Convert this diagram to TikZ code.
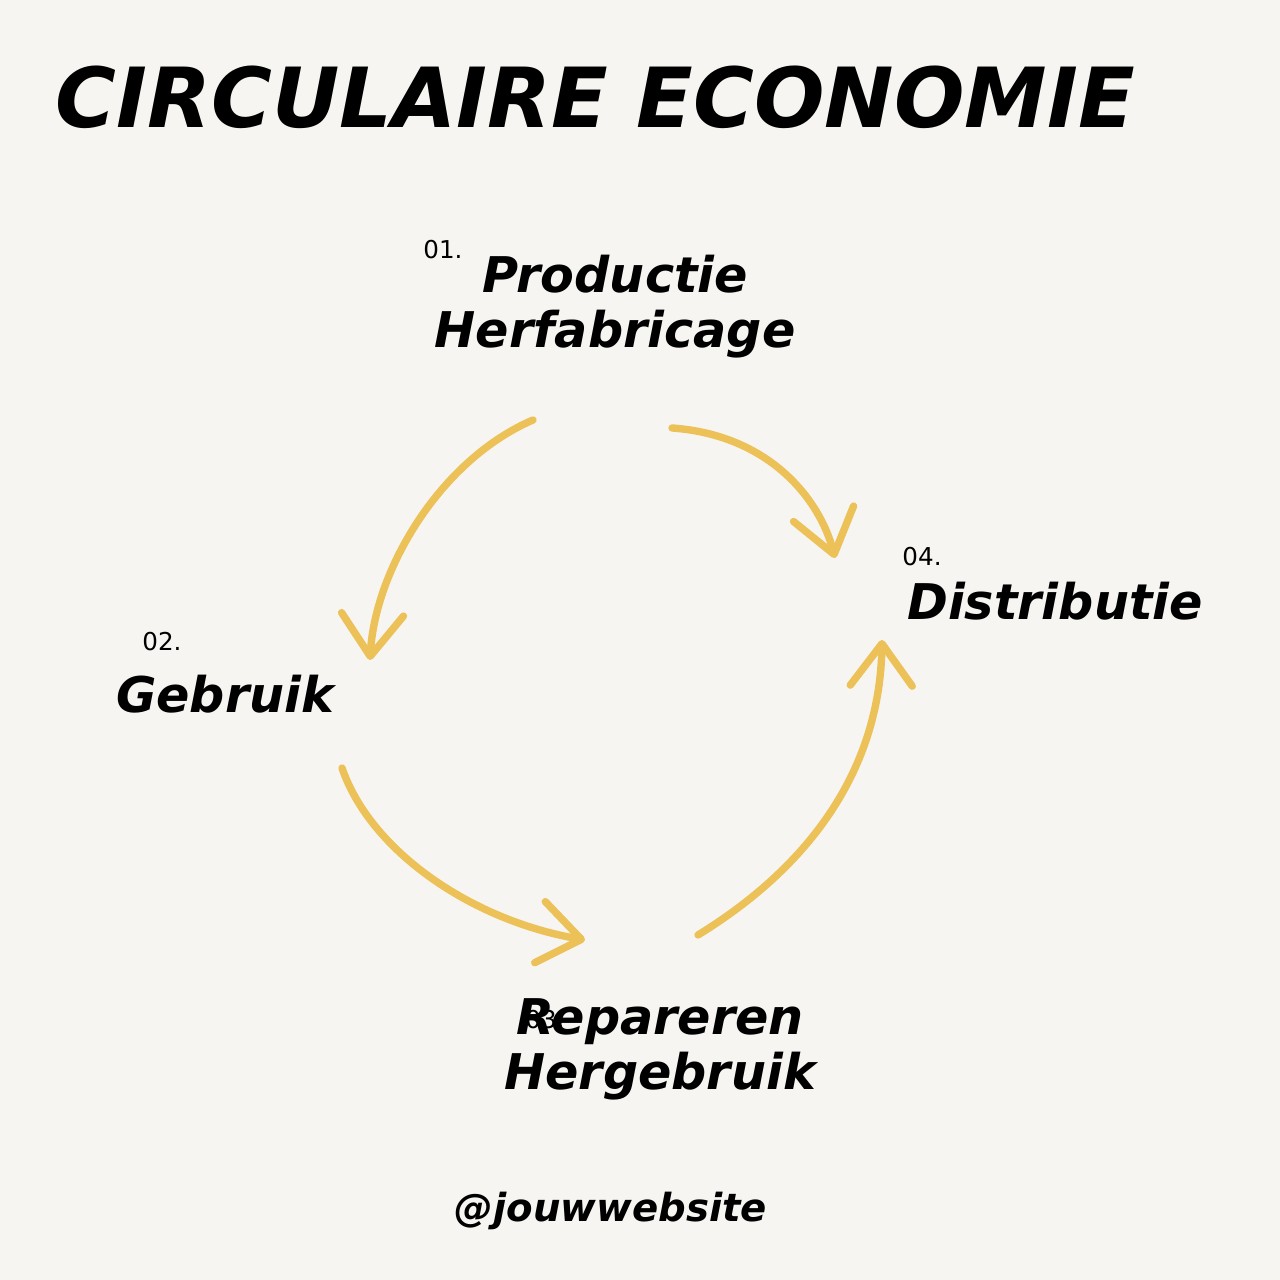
\documentclass[tikz,border=0pt]{standalone}
\usepackage{fontspec}
\setmainfont{DejaVu Sans}
\usetikzlibrary{arrows.meta}
\definecolor{paper}{HTML}{F7F5F2}
\definecolor{gold}{HTML}{EBC158}
\tikzset{
  cycle arrow/.style={draw=gold, line width=2.1pt, line cap=round,
    -{Straight Barb[length=4.2mm, width=6.2mm, round]}},
  stage/.style={font=\bfseries\itshape\fontsize{14}{15.8}\selectfont, align=center, inner sep=0pt},
  stepnum/.style={font=\fontsize{7}{8}\selectfont, inner sep=0pt}
}

\begin{document}
\begin{tikzpicture}
	\fill[paper] (0,0) rectangle (12.8,12.8);
	\useasboundingbox (0,0) rectangle (12.8,12.8);

	\node[anchor=base west, inner sep=0pt, font=\bfseries\itshape\fontsize{23.6}{26}\selectfont] (title) at (0.55,11.52) {CIRCULAIRE ECONOMIE};

	\node[stepnum] (n1) at (4.43,10.30) {01.};
	\node[stepnum] (n2) at (1.62,6.38) {02.};
	\node[stepnum] (n3) at (5.45,2.60) {03.};
	\node[stepnum] (n4) at (9.22,7.23) {04.};

	\node[stage, anchor=base] (prod) at (6.15,9.32) {Productie\\Herfabricage};
	\node[stage, anchor=base] (gebr) at (2.25,5.67) {Gebruik};
	\node[stage, anchor=base] (repa) at (6.60,1.90) {Repareren\\Hergebruik};
	\node[stage, anchor=base] (dist) at (10.55,6.60) {Distributie};

	\node[anchor=base, inner sep=0pt, font=\bfseries\itshape\fontsize{11}{13}\selectfont] (web) at (6.11,0.58) {@jouwwebsite};

	\coordinate (a1) at (5.33,8.60); \coordinate (b1) at (3.70,6.20);
	\coordinate (a2) at (3.42,5.12); \coordinate (b2) at (5.85,3.40);
	\coordinate (a3) at (6.98,3.45); \coordinate (b3) at (8.82,6.40);
	\coordinate (a4) at (6.72,8.52); \coordinate (b4) at (8.35,7.22);

	\draw[cycle arrow] (a1) .. controls (4.40,8.20) and (3.75,7.10) .. (b1);
	\draw[cycle arrow] (a2) .. controls (3.70,4.30) and (4.70,3.60) .. (b2);
	\draw[cycle arrow] (a3) .. controls (8.20,4.20) and (8.80,5.20) .. (b3);
	\draw[cycle arrow] (a4) .. controls (7.70,8.45) and (8.20,7.80) .. (b4);
\end{tikzpicture}
\end{document}
